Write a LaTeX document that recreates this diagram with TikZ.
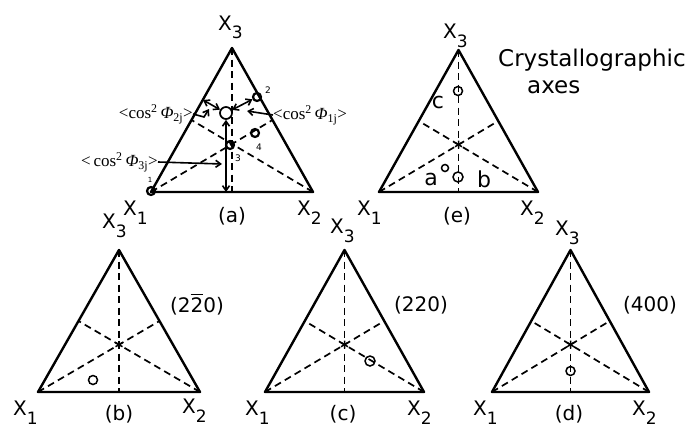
\documentclass[tikz,border=0pt]{standalone}
\usepackage[no-math]{fontspec}
\setmainfont{DejaVu Sans}
\newfontfamily\annfont{Liberation Serif}
\usetikzlibrary{arrows.meta,calc}
\newcommand{\Xl}[1]{X\raisebox{-9pt}{\fontsize{17}{17}\selectfont #1}}
\newcommand{\cosl}[2]{{\annfont <#1cos\textsuperscript{2}\,\textit{Φ}\textsubscript{#2}>}}
% name, x left, x right, y base, y apex
\newcommand{\mktri}[5]{%
  \coordinate (#1-1) at (#2,#4);
  \coordinate (#1-2) at (#3,#4);
  \coordinate (#1-3) at ({(#2+#3)/2},#5);
  \coordinate (#1-m12) at ($(#1-1)!0.5!(#1-2)$);
  \coordinate (#1-m23) at ($(#1-2)!0.5!(#1-3)$);
  \coordinate (#1-m13) at ($(#1-1)!0.5!(#1-3)$);
  \coordinate (#1-c) at (barycentric cs:#1-1=1,#1-2=1,#1-3=1);
  \draw[med] (#1-3) -- (#1-m12);
  \draw[med] (#1-1) -- (#1-m23);
  \draw[med] (#1-2) -- (#1-m13);
  \draw[side] (#1-1) -- (#1-2) -- (#1-3) -- cycle;
}
\newcommand{\mkstar}[1]{%
  \draw[line width=1.5pt] ($(#1-c)!4pt!(#1-3)$) -- ($(#1-c)!4pt!(#1-m12)$);
  \draw[line width=1.5pt] ($(#1-c)!4pt!(#1-1)$) -- ($(#1-c)!4pt!(#1-m23)$);
  \draw[line width=1.5pt] ($(#1-c)!4pt!(#1-2)$) -- ($(#1-c)!4pt!(#1-m13)$);
}
\begin{document}
\begin{tikzpicture}[x=1pt,y=-1pt,
  side/.style={line width=2.4pt,line join=round,line cap=round},
  med/.style={line width=1.7pt,dash pattern=on 7pt off 4.5pt},
  lab/.style={font=\fontsize{20}{20}\selectfont,inner sep=0pt,anchor=base west},
  sublab/.style={font=\fontsize{20}{20}\selectfont,inner sep=0pt,anchor=base},
  txt/.style={font=\fontsize{23}{23}\selectfont,inner sep=0pt,anchor=base west},
  ltr/.style={font=\fontsize{22}{22}\selectfont,inner sep=0pt,anchor=base},
  ptc/.style={circle,draw,line width=2.2pt,minimum size=8pt,inner sep=0pt},
  ctrc/.style={circle,draw,fill=white,line width=1.7pt,minimum size=12pt,inner sep=0pt},
  obs/.style={circle,draw,line width=1.5pt,minimum size=9pt,inner sep=0pt},
  dbl/.style={line width=1.6pt,{Straight Barb[length=5pt,width=7pt]}-{Straight Barb[length=5pt,width=7pt]}},
  ptr/.style={line width=1.6pt,-{Straight Barb[length=5pt,width=7pt]}},
  ann/.style={font=\fontsize{17}{17}\selectfont,inner sep=0pt},
  num/.style={font=\fontsize{9}{9}\selectfont,inner sep=0pt}
]
\useasboundingbox (0,0) rectangle (690,431);
\fill[white] (0,0) rectangle (690,431);

% ---------- (a) ----------
\mktri{a}{151}{313}{192}{48}
\node[lab] (a-x3) at (218,30) {\Xl{3}};
\node[lab] (a-x1) at (123,215) {\Xl{1}};
\node[lab] (a-x2) at (297,215) {\Xl{2}};
\node[sublab] (a-cap) at (232,222) {(a)};

\node[ptc] (p1) at (151,191) {};
\node[ptc] (p2) at (257,97) {};
\node[ptc] (p3) at (230,145) {};
\node[ptc] (p4) at (255,133) {};
\node[num,font=\fontsize{7}{7}\selectfont] (n1) at (150,180) {1};
\node[num] (n2) at (268,90) {2};
\node[num] (n3) at (238,158) {3};
\node[num] (n4) at (259,147) {4};

\node[ctrc] (ctr) at (226,113) {};
\coordinate (lf) at (203,100);
\coordinate (bf) at (226,192);
\draw[dbl] (ctr) -- (lf);
\draw[dbl] (ctr) -- (p2);
\draw[dbl] (ctr) -- (bf);

\node[ann,anchor=east] (l2) at (193,114) {\cosl{}{2j}};
\node[ann,anchor=west] (l1) at (273,115) {\cosl{}{1j}};
\node[ann,anchor=east] (l3) at (158,162) {\cosl{\,}{3j}};
\coordinate (k2) at (204,117);
\coordinate (t2) at (209,109);
\coordinate (t1) at (247,111);
\coordinate (t3) at (222,164);
\draw[ptr] (l2.east) -- (k2) -- (t2);
\draw[ptr] (l1.west) -- (t1);
\draw[ptr] (l3.east) -- (t3);

% ---------- (e) ----------
\mktri{e}{379}{538}{192}{50}
\mkstar{e}
\node[lab] (e-x3) at (443,38) {\Xl{3}};
\node[lab] (e-x1) at (357,215) {\Xl{1}};
\node[lab] (e-x2) at (520,215) {\Xl{2}};
\node[sublab] (e-cap) at (457,222) {(e)};
\node[obs] (ec) at (458,91) {};
\node[obs,minimum size=7pt] (ea) at (445,168) {};
\node[obs,minimum size=10pt] (eb) at (458,177) {};
\node[ltr] (lc) at (438,108) {c};
\node[ltr] (la) at (431,185) {a};
\node[ltr] (lb) at (484,187) {b};
\node[txt] (cryst) at (498,66) {Crystallographic};
\node[txt] (axes) at (527,93) {axes};

% ---------- (b) ----------
\mktri{b}{38}{200}{392}{250}
\mkstar{b}
\node[lab] (b-x3) at (102,228) {\Xl{3}};
\node[lab] (b-x1) at (13,415) {\Xl{1}};
\node[lab] (b-x2) at (182,413) {\Xl{2}};
\node[sublab] (b-cap) at (119,420) {(b)};
\node[sublab] (b-hkl) at (197,312) {(2\rlap{\rule[0.84em]{0.62em}{0.07em}}20)};
\node[obs] (bo) at (93,380) {};

% ---------- (c) ----------
\mktri{c}{265}{424}{392}{250}
\mkstar{c}
\node[lab] (c-x3) at (330,233) {\Xl{3}};
\node[lab] (c-x1) at (245,415) {\Xl{1}};
\node[lab] (c-x2) at (407,415) {\Xl{2}};
\node[sublab] (c-cap) at (343,420) {(c)};
\node[sublab] (c-hkl) at (421,311) {(220)};
\node[obs,minimum size=10pt] (co) at (370,361) {};

% ---------- (d) ----------
\mktri{d}{492}{649}{392}{250}
\mkstar{d}
\node[lab] (d-x3) at (555,235) {\Xl{3}};
\node[lab] (d-x1) at (473,415) {\Xl{1}};
\node[lab] (d-x2) at (632,415) {\Xl{2}};
\node[sublab] (d-cap) at (569,420) {(d)};
\node[sublab] (d-hkl) at (650,311) {(400)};
\node[obs] (do) at (570.5,371) {};
\end{tikzpicture}
\end{document}
